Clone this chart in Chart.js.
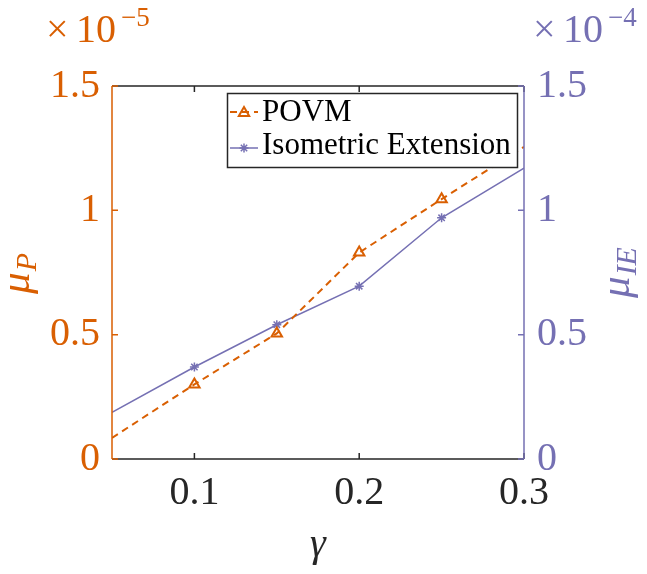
<!DOCTYPE html>
<html><head><meta charset="utf-8">
<script src="https://cdn.jsdelivr.net/npm/chart.js@4/dist/chart.umd.min.js"></script>
<style>html,body{margin:0;padding:0;background:#fff;}#wrap{width:647px;height:574px;}</style>
</head><body><div id="wrap"><canvas id="c" width="647" height="574"></canvas></div>
<script>
// ---- data ----
const gamma = [0.05, 0.10, 0.15, 0.20, 0.25, 0.30];
const muP  = [0.085, 0.30, 0.505, 0.83, 1.045, 1.255];   // x 1e-5
const muIE = [0.188, 0.37, 0.54, 0.695, 0.97, 1.17];     // x 1e-4
const markerShown = [0, 1, 1, 1, 1, 0];
const xTicks = [0.1, 0.2, 0.3];
const yTicks = [0, 0.5, 1, 1.5];
const seriesLabels = ['POVM', 'Isometric Extension'];
const expLeft = '\u22125', expRight = '\u22124';
const xTitle = '\u03b3';
const yLeftTitle = ['\u03bc', 'P'];
const yRightTitle = ['\u03bc', 'IE'];

const ORANGE = '#D95F02', PURPLE = '#7570B3', DARK = '#262626';
const SERIF = '"Liberation Serif", "Times New Roman", serif';

const L = {left:112, right:524, top:86, bottom:459, W:647, H:574};

function pts(ys){ return gamma.map((g,i)=>({x:g, y:ys[i]})); }

function drawMarker(ctx, style, x, y, r, color, lw){
  ctx.save();
  ctx.strokeStyle = color; ctx.lineWidth = lw; ctx.setLineDash([]);
  ctx.beginPath();
  if (style === 'triangle') {
    ctx.moveTo(x, y - r);
    ctx.lineTo(x + r*Math.sin(Math.PI/3), y + r*0.5);
    ctx.lineTo(x - r*Math.sin(Math.PI/3), y + r*0.5);
    ctx.closePath();
  } else {
    for (let k=0;k<4;k++){
      const a = k*Math.PI/4;
      ctx.moveTo(x - r*Math.cos(a), y - r*Math.sin(a));
      ctx.lineTo(x + r*Math.cos(a), y + r*Math.sin(a));
    }
  }
  ctx.stroke();
  ctx.restore();
}

const decor = {
  id: 'decor',
  afterDraw(chart){
    const {ctx, chartArea:a, scales} = chart;
    const xs = scales.x, yl = scales.yL, yr = scales.yR;
    ctx.save();
    ctx.setLineDash([]);
    ctx.lineWidth = 1.5;
    const TL = 6;
    // top & bottom axes
    ctx.strokeStyle = DARK;
    ctx.beginPath();
    ctx.moveTo(a.left, a.bottom); ctx.lineTo(a.right, a.bottom);
    ctx.moveTo(a.left, a.top); ctx.lineTo(a.right, a.top);
    xTicks.forEach(t=>{
      const px = xs.getPixelForValue(t);
      ctx.moveTo(px, a.bottom); ctx.lineTo(px, a.bottom - TL);
      ctx.moveTo(px, a.top); ctx.lineTo(px, a.top + TL);
    });
    ctx.stroke();
    // left axis
    ctx.strokeStyle = ORANGE;
    ctx.beginPath();
    ctx.moveTo(a.left, a.top); ctx.lineTo(a.left, a.bottom);
    yTicks.forEach(t=>{ const py = yl.getPixelForValue(t); ctx.moveTo(a.left, py); ctx.lineTo(a.left+TL, py); });
    ctx.stroke();
    // right axis
    ctx.strokeStyle = PURPLE;
    ctx.beginPath();
    ctx.moveTo(a.right, a.top); ctx.lineTo(a.right, a.bottom);
    yTicks.forEach(t=>{ const py = yr.getPixelForValue(t); ctx.moveTo(a.right, py); ctx.lineTo(a.right-TL, py); });
    ctx.stroke();

    // exponent labels
    ctx.textBaseline = 'alphabetic'; ctx.textAlign = 'left';
    function expo(x0, color, exp){
      ctx.fillStyle = color;
      ctx.font = '40px ' + SERIF;
      ctx.fillText('\u00d7', x0, 42);
      ctx.fillText('10', x0 + 30, 42);
      ctx.font = '27px ' + SERIF;
      ctx.fillText(exp, x0 + 75, 26);
    }
    expo(46, ORANGE, expLeft);
    expo(533, PURPLE, expRight);

    // x title
    ctx.fillStyle = DARK;
    ctx.font = 'italic 40px ' + SERIF;
    ctx.textAlign = 'center';
    ctx.fillText(xTitle, 318, 556);

    // rotated y titles
    function ytitle(bx, cy, parts, color){
      ctx.save();
      ctx.translate(bx, cy);
      ctx.rotate(-Math.PI/2);
      ctx.fillStyle = color;
      ctx.textAlign = 'left';
      ctx.font = 'italic 43px ' + SERIF;
      const w1 = ctx.measureText(parts[0]).width;
      ctx.font = 'italic 30px ' + SERIF;
      const w2 = ctx.measureText(parts[1]).width;
      const u0 = -(w1 + w2)/2;
      ctx.font = 'italic 43px ' + SERIF;
      ctx.fillText(parts[0], u0, 0);
      ctx.font = 'italic 30px ' + SERIF;
      ctx.fillText(parts[1], u0 + w1 + 1, 7);
      ctx.restore();
    }
    ytitle(29, 274, yLeftTitle, ORANGE);
    ytitle(629, 273, yRightTitle, PURPLE);

    // legend
    const bx = 227, by = 93, bw = 290, bh = 74;
    ctx.fillStyle = '#fff';
    ctx.fillRect(bx, by, bw, bh);
    ctx.strokeStyle = DARK; ctx.lineWidth = 1.5;
    ctx.strokeRect(bx + 0.5, by + 0.5, bw, bh);
    const ds = chart.data.datasets;
    const rows = [112, 148], base = [121, 154];
    ds.forEach((d, i)=>{
      const y = rows[i];
      ctx.save();
      ctx.strokeStyle = d.borderColor; ctx.lineWidth = d.borderWidth;
      ctx.setLineDash(d.borderDash || []);
      ctx.beginPath(); ctx.moveTo(230, y); ctx.lineTo(258, y); ctx.stroke();
      ctx.restore();
      drawMarker(ctx, d.pointStyle, 244, y + (i===0?1:0), i===0?6:4.5, d.borderColor, d.pointBorderWidth);
      ctx.fillStyle = '#000';
      ctx.font = '31px ' + SERIF;
      ctx.textAlign = 'left';
      ctx.fillText(d.label, 262, base[i]);
    });
    ctx.restore();
  }
};

new Chart(document.getElementById('c'), {
  type: 'line',
  data: {
    datasets: [
      { label: seriesLabels[0], data: pts(muP), yAxisID: 'yL',
        borderColor: ORANGE, borderWidth: 2, borderDash: [7, 5],
        pointStyle: 'triangle', pointRadius: markerShown.map(m=>m?6:0),
        pointBorderColor: ORANGE, pointBackgroundColor: 'rgba(255,255,255,0)', pointBorderWidth: 2,
        tension: 0, fill: false },
      { label: seriesLabels[1], data: pts(muIE), yAxisID: 'yR',
        borderColor: PURPLE, borderWidth: 1.5,
        pointStyle: 'star', pointRadius: markerShown.map(m=>m?4.5:0),
        pointBorderColor: PURPLE, pointBackgroundColor: PURPLE, pointBorderWidth: 1.5,
        tension: 0, fill: false }
    ]
  },
  options: {
    responsive: false, animation: false, devicePixelRatio: 1,
    layout: { padding: { left: 0, right: 0, top: L.top, bottom: 0 } },
    plugins: { legend: { display: false }, tooltip: { enabled: false } },
    scales: {
      x: { type: 'linear', min: 0.05, max: 0.3,
        afterBuildTicks: s => { s.ticks = xTicks.map(v=>({value:v})); },
        afterFit: s => { s.height = L.H - L.bottom; },
        grid: { display: false, drawTicks: false }, border: { display: false },
        ticks: { color: DARK, padding: 10, maxRotation: 0, autoSkip: false,
          font: { family: SERIF, size: 40 }, callback: v => String(v) } },
      yL: { type: 'linear', position: 'left', min: 0, max: 1.5,
        afterBuildTicks: s => { s.ticks = yTicks.map(v=>({value:v})); },
        afterFit: s => { s.width = L.left; },
        grid: { display: false, drawTicks: false }, border: { display: false },
        ticks: { color: ORANGE, padding: 12, font: { family: SERIF, size: 40 }, callback: v => String(v) } },
      yR: { type: 'linear', position: 'right', min: 0, max: 1.5,
        afterBuildTicks: s => { s.ticks = yTicks.map(v=>({value:v})); },
        afterFit: s => { s.width = L.W - L.right; },
        grid: { display: false, drawTicks: false }, border: { display: false },
        ticks: { color: PURPLE, padding: 13, font: { family: SERIF, size: 40 }, callback: v => String(v) } }
    }
  },
  plugins: [decor]
});
</script></body></html>
